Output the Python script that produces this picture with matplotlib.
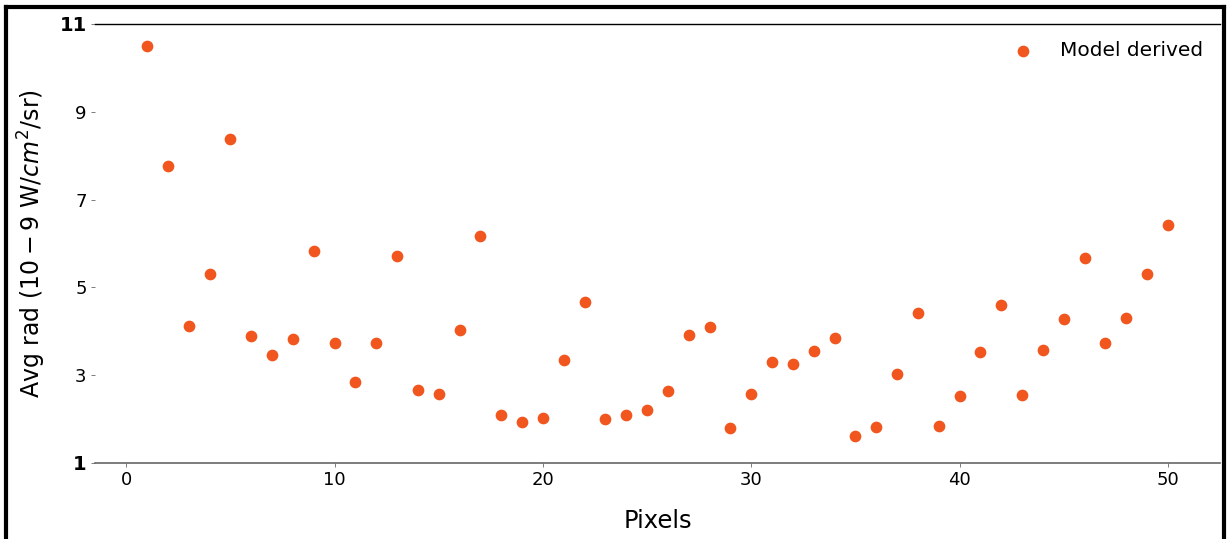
import matplotlib
matplotlib.use("Agg")
import matplotlib.pyplot as plt
from matplotlib.lines import Line2D

pixels = list(range(1, 51))
avg_rad = [10.49, 7.76, 4.13, 5.31, 8.39, 3.90, 3.46, 3.83, 5.84, 3.73,
           2.85, 3.73, 5.72, 2.66, 2.58, 4.04, 6.16, 2.09, 1.93, 2.03,
           3.35, 4.67, 2.00, 2.09, 2.21, 2.65, 3.92, 4.10, 1.80, 2.57,
           3.31, 3.25, 3.56, 3.85, 1.62, 1.82, 3.03, 4.42, 1.84, 2.53,
           3.52, 4.61, 2.56, 3.57, 4.27, 5.68, 3.74, 4.30, 5.30, 6.42]
x_ticks = [0, 10, 20, 30, 40, 50]
y_ticks = [1, 3, 5, 7, 9, 11]

fig = plt.figure(figsize=(12.27, 5.39), dpi=100)
ax = fig.add_axes([95/1227, 1-463/539, 1125/1227, 439/539])
ax.scatter(pixels, avg_rad, s=55, color='#F0561E', label='Model derived', zorder=3)

ax.set_xlim(-1.5, 52.5)
ax.set_ylim(1, 11)
ax.set_xticks(x_ticks)
ax.set_yticks(y_ticks)
ax.tick_params(axis='both', labelsize=13, length=3, width=0.6, color='#666666', pad=3)
for lbl in ax.get_yticklabels():
    if lbl.get_text() in ('1', '11'):
        lbl.set_fontweight('semibold')
        lbl.set_fontsize(14)

ax.spines['left'].set_visible(False)
ax.spines['right'].set_visible(False)
ax.spines['top'].set_color('black')
ax.spines['top'].set_linewidth(1.0)
ax.spines['bottom'].set_color('#666666')
ax.spines['bottom'].set_linewidth(1.2)

ax.set_xlabel('Pixels', fontsize=17.5, labelpad=14)
ax.set_ylabel('Avg rad ($10-9$ W/$cm^2$/sr)', fontsize=17, labelpad=8)

ax.legend(loc='upper right', frameon=False, fontsize=14.5, markerscale=1.0,
          handletextpad=0.85, borderaxespad=0.45)

# figure border (left, top, right)
for xs, ys in [([6/1227, 6/1227], [0, 1-7/539]),
               ([6/1227, 1224/1227], [1-7/539, 1-7/539]),
               ([1224/1227, 1224/1227], [0, 1-7/539])]:
    fig.add_artist(Line2D(xs, ys, color='black', linewidth=3, transform=fig.transFigure))

fig.savefig('out.png', dpi=100)
